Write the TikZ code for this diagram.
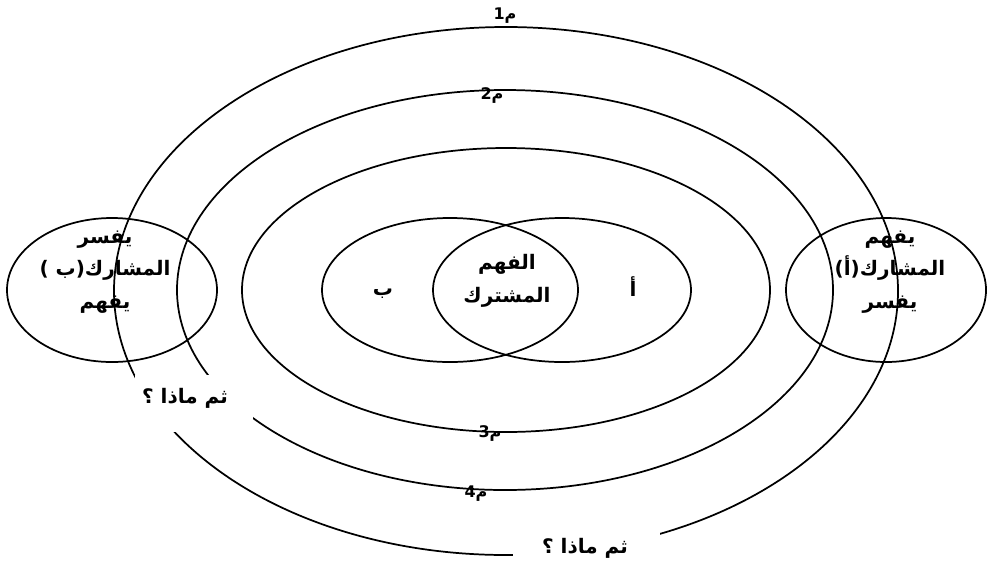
\documentclass[tikz,border=0pt]{standalone}
\usepackage{fontspec}
\newfontfamily\arabicfont[Script=Arabic]{DejaVu Sans}
\TeXXeTstate=1
\usetikzlibrary{positioning}

\begin{document}
\begin{tikzpicture}[
    x=0.75pt, y=-0.75pt,
    ring/.style={draw=black, line width=1.3pt},
    word/.style={font=\arabicfont\bfseries\fontsize{15}{24.5}\selectfont, align=center, inner sep=0pt},
    tag/.style={font=\arabicfont\bfseries\fontsize{12}{14}\selectfont, inner sep=0pt},
    gap/.style={fill=white}
]
    \useasboundingbox (0,0) rectangle (988,572);

    % rings round the shared meaning
    \draw [ring] (506,291) ellipse [x radius=392, y radius=264];
    \draw [ring] (505,290) ellipse [x radius=328, y radius=200];
    \draw [ring] (506,290) ellipse [x radius=264, y radius=142];

    % the two partners
    \draw [ring] (450,290) ellipse [x radius=128, y radius=72];
    \draw [ring] (562,290) ellipse [x radius=129, y radius=72];
    \draw [ring] (112,290) ellipse [x radius=105, y radius=72];
    \draw [ring] (886,290) ellipse [x radius=100, y radius=72];

    % white gaps cut in the rings
    \fill [gap] (135,375) rectangle (253,432);
    \fill [gap] (513,528) rectangle (660,572);

    \node (shared) [word] at (507,281) {\beginR الفهم\endR\\\beginR المشترك\endR};
    \node (partB) [word] at (383,294) {\beginR ب\endR};
    \node (partA) [word] at (633,287) {\beginR أ\endR};
    \node (leftside) [word] at (105,272) {\beginR يفسر\endR\\\beginR المشارك(ب )\endR\\\beginR يفهم\endR};
    \node (rightside) [word] at (890,272) {\beginR يفهم\endR\\\beginR المشارك(أ)\endR\\\beginR يفسر\endR};
    \node (then1) [word] at (185,398) {\beginR ثم ماذا ؟\endR};
    \node (then2) [word] at (585,548) {\beginR ثم ماذا ؟\endR};

    \node (m1) [tag] at (505,16) {\beginR م1\endR};
    \node (m2) [tag] at (492,96) {\beginR م2\endR};
    \node (m3) [tag] at (490,434) {\beginR م3\endR};
    \node (m4) [tag] at (476,494) {\beginR م4\endR};
\end{tikzpicture}
\end{document}
